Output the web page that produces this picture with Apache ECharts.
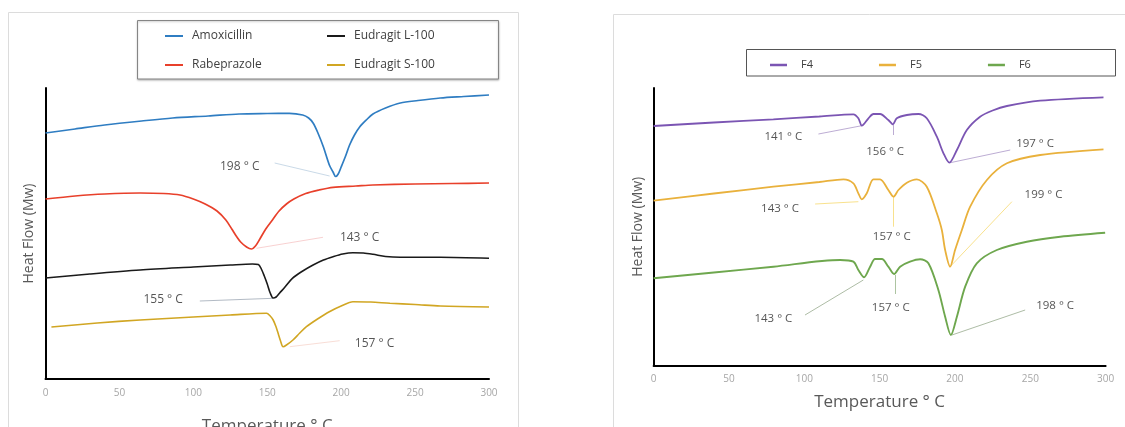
<!DOCTYPE html>
<html>
<head>
<meta charset="utf-8">
<script src="https://cdn.jsdelivr.net/npm/echarts@6/dist/echarts.min.js"></script>
<style>
html,body{margin:0;padding:0;background:#fff;}
#c{width:1125px;height:427px;}
</style>
</head>
<body>
<div id="c"></div>
<script>
// Left panel: pure components (x = temperature °C, y = heat flow, arbitrary units)
const amoxicillin = [[0,246],[20,250],[40,254],[65,258],[86,261],[110,263],[131,265],[150,265.5],[165,265.7],[174,264],[178,261],[181,256],[184,247],[188,232],[192,214],[194.5,207],[196.3,202.5],[198,205],[200,212],[203,223],[205.7,234],[209,244],[212.5,252],[217,259],[221.5,265],[230,271],[240,276],[252,278.5],[267,281],[283,282.5],[300,284]];
const rabeprazole = [[0,180],[20,183],[40,185],[64,186],[80,185.5],[91,184],[100,180],[108,175],[116,168],[122,159],[126,150],[129,143],[132,137],[136,132],[139.3,130],[142,133],[145,140],[149,150],[153,158],[158,168],[163,175],[168,180],[176,185.5],[185,189],[194.5,191.7],[210,193],[221.5,194],[250,195],[275,195.5],[300,196]];
const eudragitL100 = [[0,101],[30,105],[64,109],[100,112],[125,114],[140,115],[144,114.5],[146,110],[148,103],[150,95],[152,86],[154,81],[156,82],[158.4,86],[162,92],[167,100.7],[174,108],[181,114],[188,119],[194.5,122.3],[201,125],[208,126.3],[215,126],[221.5,124.7],[230,122.5],[240,121.7],[267,121.7],[300,120.7]];
const eudragitS100 = [[4,52],[35,56],[64,59],[100,62],[125,64],[149.5,65.7],[152,63],[154,59],[156,52],[157.5,45],[159,38],[160.7,32.3],[163,34],[167.4,39],[172,46],[176.5,52.3],[184,60],[192,67.3],[200,73],[208,77.3],[220,77],[233,75.7],[250,74.5],[267,73],[300,72]];

// Right panel: formulations
const f4 = [[0,239.5],[40,243],[79.5,246.2],[110,249],[132.6,251.2],[135.9,247.2],[138.2,239.8],[142.6,247.2],[145.9,251.5],[150.3,251.5],[155.8,245.5],[158.8,241.2],[161.4,247.2],[168.1,250.5],[175.8,251.5],[181.3,247.2],[188,228.8],[192.4,212.2],[196.3,202.8],[201.3,215.5],[207.9,235.5],[216.7,248.8],[225,255],[234.5,259.5],[256.6,264.8],[298.6,268.2]];
const f5 = [[0,164.8],[40,172],[79.5,178.8],[110,183.5],[126,186.2],[132.6,182.2],[135.9,172.2],[138.2,166.2],[141.5,172.2],[145.9,186.2],[150.3,186.2],[155.8,175.5],[159.2,168.8],[162.5,175.5],[168.1,182.8],[174.7,186.2],[181.3,178.8],[188,152.2],[191.3,135.5],[193.5,115.5],[196.8,98.8],[200.1,115.5],[204.6,135.5],[210.1,158.8],[221.2,185.5],[234.5,202.2],[256.6,210.5],[298.6,216.2]];
const f6 = [[0,87.2],[40,93],[79.5,98.8],[123.8,105.5],[132.6,103.8],[135.9,95.5],[139.7,88.2],[143.7,98.8],[147,106.5],[151.5,106.5],[155.8,98.8],[159.6,91.5],[163.6,98.8],[170.2,103.8],[176.9,106.2],[182.4,102.2],[189,75.5],[193.5,48.8],[197.3,30.5],[201.3,48.8],[206.8,78.8],[214.5,102.2],[227.8,115.5],[247.7,123.8],[269.9,128.8],[299.7,132.8]];

// Peak annotations (text, text position, leader line) in data coordinates
const annLeft = [
  {text:'198 ° C', pos:[131.4,212.3], line:[[155,216],[192.2,203]], color:'#93b4cf'},
  {text:'143 ° C', pos:[212.5,141.7], line:[[142.7,130.7],[187.7,141.7]], color:'#f2a3a3'},
  {text:'155 ° C', pos:[79.6,79.7], line:[[104.4,78],[153.9,80.7]], color:'#66758a'},
  {text:'157 ° C', pos:[222.6,35], line:[[165.2,32.3],[199,38.3]], color:'#f2bcae'}
];
const annRight = [
  {text:'141 ° C', pos:[86.1,228.8], line:[[109.4,231.5],[138.2,239.8]], color:'#7a5aa8'},
  {text:'156 ° C', pos:[153.7,213.8], line:[[158.8,241.2],[158.8,230.5]], color:'#7a5aa8'},
  {text:'197 ° C', pos:[253.2,221.5], line:[[196.9,202.8],[236.7,215.5]], color:'#7a5aa8'},
  {text:'143 ° C', pos:[83.9,157.2], line:[[107.2,161.5],[135.9,163.8]], color:'#f2c31c'},
  {text:'157 ° C', pos:[158.1,128.8], line:[[159.2,168.8],[159.2,138.8]], color:'#f2c31c'},
  {text:'199 ° C', pos:[258.8,170.5], line:[[196.8,98.8],[237.8,163.8]], color:'#f2c31c'},
  {text:'143 ° C', pos:[79.5,47.2], line:[[100.5,50.5],[139.2,85.5]], color:'#5b7a4c'},
  {text:'157 ° C', pos:[157.4,58.2], line:[[160.3,90.5],[160.3,71.5]], color:'#5b8a44'},
  {text:'198 ° C', pos:[266.5,59.5], line:[[198,30.5],[246.6,55.5]], color:'#5b7a4c'}
];

const FONT = '"Open Sans", "Noto Sans", sans-serif';
const chart = echarts.init(document.getElementById('c'), null, {renderer:'canvas'});

function xAx(gi, gap){
  return {type:'value', gridIndex:gi, min:0, max:300, interval:50,
    axisLine:{show:true, onZero:false, lineStyle:{color:'#000', width:2}},
    axisTick:{show:false}, splitLine:{show:false},
    axisLabel:{color:'#a6a6a6', fontSize:10, margin:9, fontFamily:FONT},
    name:'Temperature ° C', nameLocation:'middle', nameGap:gap,
    nameTextStyle:{fontSize:17, color:'#595959', fontFamily:FONT}};
}
function yAx(gi, max){
  return {type:'value', gridIndex:gi, min:0, max:max,
    axisLine:{show:true, onZero:false, lineStyle:{color:'#000', width:2}},
    axisTick:{show:false}, splitLine:{show:false}, axisLabel:{show:false},
    name:'Heat Flow (Mw)', nameLocation:'middle', nameGap:9, nameRotate:90,
    nameTextStyle:{fontSize:14, color:'#595959', fontFamily:FONT}};
}
function curve(name, data, color, gi, w){
  return {type:'line', name:name, data:data, xAxisIndex:gi, yAxisIndex:gi,
    showSymbol:false, symbol:'none', smooth:0.3, color:color,
    lineStyle:{color:color, width:w}, z:3, silent:true};
}
function leaders(ann, gi){
  return {type:'lines', coordinateSystem:'cartesian2d', xAxisIndex:gi, yAxisIndex:gi,
    polyline:false, silent:true, z:2,
    data: ann.map(a=>({coords:a.line, lineStyle:{color:a.color, width:1}}))};
}
function texts(ann, gi, fs){
  return {type:'scatter', xAxisIndex:gi, yAxisIndex:gi, silent:true, z:4,
    symbolSize:1, itemStyle:{color:'rgba(0,0,0,0)'},
    label:{show:true, position:'inside', formatter:p=>p.name, color:'#2b2b2b', fontSize:fs, fontFamily:FONT},
    data: ann.map(a=>({name:a.text, value:a.pos}))};
}

const legendText = {color:'#404040', fontSize:12, fontFamily:FONT, padding:[0,0,0,4], lineHeight:14};

chart.setOption({
  animation:false,
  backgroundColor:'#fff',
  graphic:[
    {type:'rect', shape:{x:8.5, y:12.5, width:510, height:440}, style:{fill:'none', stroke:'#dcdcdc', lineWidth:1}, silent:true, z:-1},
    {type:'rect', shape:{x:613.5, y:14.5, width:530, height:440}, style:{fill:'none', stroke:'#dcdcdc', lineWidth:1}, silent:true, z:-1},
    {type:'rect', shape:{x:137.5, y:20.5, width:361, height:58.5}, style:{fill:'#fff', stroke:'#858585', lineWidth:1, shadowBlur:2, shadowColor:'rgba(0,0,0,0.25)', shadowOffsetY:1}, silent:true, z:0},
    {type:'rect', shape:{x:746.5, y:49.5, width:369, height:26.5}, style:{fill:'#fff', stroke:'#555', lineWidth:1}, silent:true, z:0}
  ],
  grid:[
    {left:45.5, top:88, width:443.5, height:291, outerBoundsMode:'none', containLabel:false},
    {left:653.6, top:88, width:452, height:277.5, outerBoundsMode:'none', containLabel:false}
  ],
  xAxis:[xAx(0, 39), xAx(1, 28)],
  yAxis:[yAx(0, 291), yAx(1, 277.5)],
  legend:[
    {data:['Amoxicillin','Rabeprazole'], orient:'vertical', left:160, top:24, itemGap:15,
     icon:'rect', itemWidth:18, itemHeight:2, textStyle:legendText, selectedMode:false, z:5},
    {data:['Eudragit L-100','Eudragit S-100'], orient:'vertical', left:322, top:24, itemGap:15,
     icon:'rect', itemWidth:18, itemHeight:2, textStyle:legendText, selectedMode:false, z:5},
    {data:['F4','F5','F6'], orient:'horizontal', left:765, top:53, itemGap:66,
     icon:'rect', itemWidth:17, itemHeight:2.5,
     textStyle:{color:'#404040', fontSize:11, fontFamily:FONT, padding:[0,0,0,9], lineHeight:14},
     selectedMode:false, z:5}
  ],
  series:[
    curve('Amoxicillin', amoxicillin, '#2f7dc2', 0, 1.7),
    curve('Rabeprazole', rabeprazole, '#e8402b', 0, 1.7),
    curve('Eudragit L-100', eudragitL100, '#1a1a1a', 0, 1.6),
    curve('Eudragit S-100', eudragitS100, '#d1a623', 0, 1.6),
    leaders(annLeft, 0),
    texts(annLeft, 0, 12),
    curve('F4', f4, '#7b55b3', 1, 1.8),
    curve('F5', f5, '#e9b13c', 1, 1.8),
    curve('F6', f6, '#6ea74e', 1, 1.9),
    leaders(annRight, 1),
    texts(annRight, 1, 11.5)
  ]
});
</script>
</body>
</html>
